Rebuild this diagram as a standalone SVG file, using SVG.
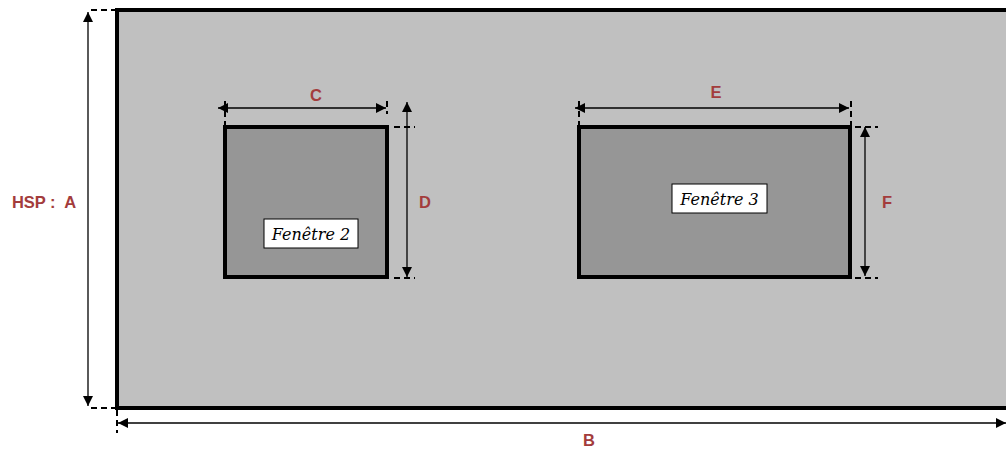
<svg xmlns="http://www.w3.org/2000/svg" width="1006" height="453" viewBox="0 0 1006 453">
<style>
.lbl{font-family:"Liberation Sans",Arial,sans-serif;font-weight:bold;font-size:16.5px;fill:#A33C3C;text-anchor:middle}
.dim{stroke:#000;stroke-width:1.3;fill:none}
.dash{stroke:#000;stroke-width:2;stroke-dasharray:6,4;fill:none}
.win{fill:#969696;stroke:#000;stroke-width:4}
.tag{fill:#fff;stroke:#000;stroke-width:1}
.tagt{font-family:"DejaVu Serif",serif;font-style:italic;font-size:16px;fill:#000;text-anchor:middle}
</style>
<defs>
<marker id="ah" viewBox="0 0 10 10" refX="10" refY="5" markerWidth="10" markerHeight="10" markerUnits="userSpaceOnUse" orient="auto-start-reverse">
<path d="M0,0 L10,5 L0,10 Z" fill="#000"/>
</marker>
</defs>
<rect width="1006" height="453" fill="#fff"/>
<g id="wall">
<rect x="117" y="10" width="895" height="398" fill="#C0C0C0" stroke="#000" stroke-width="4"/>
</g>
<g id="fenetre2">
<rect class="win" x="225" y="127" width="162" height="150"/>
<rect class="tag" x="264" y="219" width="94" height="29"/>
<text class="tagt" x="311" y="240">Fenêtre 2</text>
</g>
<g id="fenetre3">
<rect class="win" x="579" y="127" width="271" height="150"/>
<rect class="tag" x="672" y="184" width="95" height="29"/>
<text class="tagt" x="719.5" y="205">Fenêtre 3</text>
</g>
<g id="connectors">
<line class="dim" x1="88" y1="12" x2="88" y2="406" marker-start="url(#ah)" marker-end="url(#ah)"/>
<line class="dash" x1="91" y1="10" x2="115" y2="10"/>
<line class="dash" x1="91" y1="408" x2="115" y2="408"/>
<line class="dim" x1="118" y1="423" x2="1006" y2="423" marker-start="url(#ah)" marker-end="url(#ah)"/>
<line class="dash" x1="117" y1="410" x2="117" y2="433"/>
<line class="dim" x1="218" y1="108" x2="386" y2="108" marker-start="url(#ah)" marker-end="url(#ah)"/>
<line class="dash" x1="225" y1="101" x2="225" y2="126"/>
<line class="dash" x1="387" y1="101" x2="387" y2="114"/>
<line class="dim" x1="407" y1="102" x2="407" y2="277" marker-start="url(#ah)" marker-end="url(#ah)"/>
<line class="dash" x1="394" y1="127" x2="415" y2="127"/>
<line class="dash" x1="394" y1="278" x2="415" y2="278"/>
<line class="dim" x1="575" y1="108" x2="849" y2="108" marker-start="url(#ah)" marker-end="url(#ah)"/>
<line class="dash" x1="579" y1="101" x2="579" y2="126"/>
<line class="dash" x1="851" y1="101" x2="851" y2="126"/>
<line class="dim" x1="865" y1="127" x2="865" y2="276" marker-start="url(#ah)" marker-end="url(#ah)"/>
<line class="dash" x1="855" y1="127" x2="878" y2="127"/>
<line class="dash" x1="855" y1="278" x2="878" y2="278"/>
</g>
<g id="labels">
<text class="lbl" x="44" y="208" style="white-space:pre">HSP :  A</text>
<text class="lbl" x="589" y="446">B</text>
<text class="lbl" x="316" y="101">C</text>
<text class="lbl" x="425" y="208">D</text>
<text class="lbl" x="716" y="98">E</text>
<text class="lbl" x="887" y="208">F</text>
</g>
</svg>
